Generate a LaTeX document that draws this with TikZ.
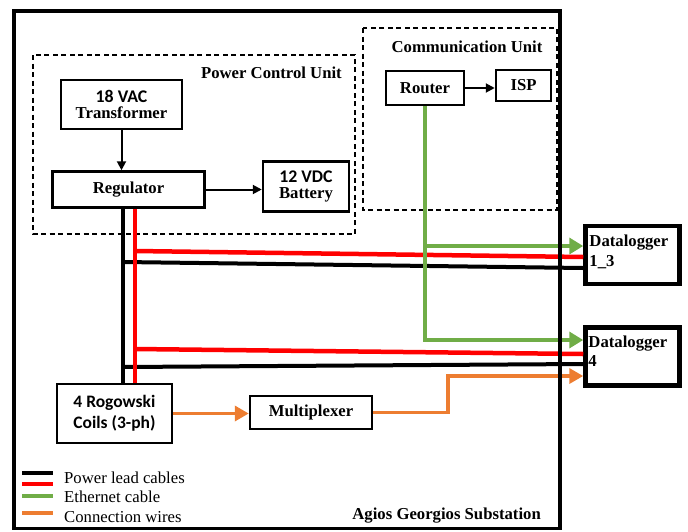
\documentclass[tikz,border=0pt]{standalone}
\usepackage{fontspec}
\setmainfont{Liberation Serif}
\newfontfamily\calibri{Carlito}
\usetikzlibrary{arrows.meta}

\definecolor{cablered}{RGB}{255,0,0}
\definecolor{ethgreen}{RGB}{112,173,71}
\definecolor{wireorange}{RGB}{237,125,49}

\begin{document}
\begin{tikzpicture}[x=1pt,y=-1pt,line join=miter,
  blockbox/.style={draw,line width=2.5pt,fill=white,align=center,inner sep=0pt,font=\fontsize{16.7}{16.5}\selectfont\bfseries},
  logbox/.style={blockbox,line width=4.5pt,minimum width=94pt,minimum height=58pt},
  logtext/.style={anchor=north west,inner sep=0pt,align=left,font=\fontsize{16.7}{19.5}\selectfont\bfseries},
  unitbox/.style={draw,line width=1.4pt,dash pattern=on 5pt off 3.5pt},
  unitlabel/.style={inner sep=0pt,font=\fontsize{16.7}{17}\selectfont\bfseries},
  legtext/.style={anchor=west,inner sep=0pt,font=\fontsize{16.7}{17}\selectfont},
  pwrblack/.style={line width=4pt,black},
  pwrred/.style={line width=4.5pt,cablered},
  arr/.style={line width=2pt,-{Triangle[length=9pt,width=9pt]}},
  eth/.style={line width=4pt,ethgreen,-{Triangle[length=14pt,width=16pt]}},
  wire/.style={line width=3.5pt,wireorange,-{Triangle[length=14pt,width=15pt]}}]
\useasboundingbox (0,0) rectangle (688,531);
% dashed units
\draw[unitbox] (33,55) rectangle (355,234);
\node[unitlabel,anchor=east] (pcu) at (342,73) {Power Control Unit};
\draw[unitbox] (363,28) rectangle (557,210);
\node[unitlabel] (cu) at (467,47) {Communication Unit};
% blocks
\node[blockbox,minimum width=121pt,minimum height=49pt] (trf) at (121.5,104.5) {{\calibri\fontsize{17.8}{17}\selectfont 18 VAC}\\Transformer};
\node[blockbox,minimum width=152pt,minimum height=36pt] (reg) at (128.5,189.5) {Regulator};
\node[blockbox,minimum width=86pt,minimum height=50pt] (bat) at (306,186.5) {{\calibri\fontsize{17.8}{17}\selectfont 12 VDC}\\Battery};
\node[blockbox,minimum width=78pt,minimum height=34pt] (rtr) at (425,88) {Router};
\node[blockbox,minimum width=55pt,minimum height=31pt] (isp) at (523.5,85.5) {ISP};
\node[blockbox,minimum width=115pt,minimum height=59pt,align=left,font=\calibri\fontsize{17.5}{21}\selectfont\bfseries] (rog) at (114.5,413.5) {4 Rogowski\\Coils (3-ph)};
\node[blockbox,minimum width=122pt,minimum height=33pt] (mux) at (311,412.5) {Multiplexer};
\node[logbox] (dl13) at (632.5,255) {};
\node[logtext] (dl13txt) at ([xshift=6pt,yshift=-11pt]dl13.north west) {Datalogger\\1\_3};
\node[logbox] (dl4) at (632.5,356.5) {};
\node[logtext] (dl4txt) at ([xshift=5pt,yshift=-10pt]dl4.north west) {Datalogger\\4};
\draw[arr] (trf.south) -- (trf.south |- reg.north);
\draw[arr] (reg.east) -- (bat.west |- reg.east);
\draw[arr] (rtr.east) -- (isp.west |- rtr.east);
% power lead cables
\coordinate (bk1) at (123,262);\coordinate (bk2) at (123,367);
\coordinate (rd1) at (135,251);\coordinate (rd2) at (135,349);
\draw[pwrblack] (bk1) -- (dl13.west |- 0,268);
\draw[pwrblack] (bk2) -- (dl4.west |- 0,364);
\draw[pwrblack] (reg.south -| bk1) -- (rog.north -| bk1);
\draw[pwrred] (rd1) -- (dl13.west |- 0,257);
\draw[pwrred] (rd2) -- (dl4.west |- 0,354);
\draw[pwrred] (reg.south -| rd1) -- (rog.north -| rd1);
% ethernet
\coordinate (ethtap) at (425,246);
\draw[eth] (rtr.south) |- (dl4.west |- 0,340);
\draw[eth] (ethtap) -- (dl13.west |- ethtap);
% connection wires
\coordinate (wup) at (448,376);
\draw[wire] (rog.east) -- (mux.west |- rog.east);
\draw[wire] (mux.east) -| (wup) -- (dl4.west |- wup);
% substation frame
\draw[line width=3.5pt] (14,11) rectangle (560,528.5);
\node[unitlabel,anchor=east] (sub) at (541,516) {Agios Georgios Substation};
% legend
\draw[pwrblack] (22,473) -- (53,473);
\draw[pwrred] (22,484) -- (53,484);
\draw[line width=3.5pt,ethgreen] (22,496) -- (53,496);
\draw[line width=3.5pt,wireorange] (22,513) -- (53,513);
\node[legtext] (lgpwr) at (64,478) {Power lead cables};
\node[legtext] (lgeth) at (64,497) {Ethernet cable};
\node[legtext] (lgwire) at (64,517) {Connection wires};
\end{tikzpicture}
\end{document}
